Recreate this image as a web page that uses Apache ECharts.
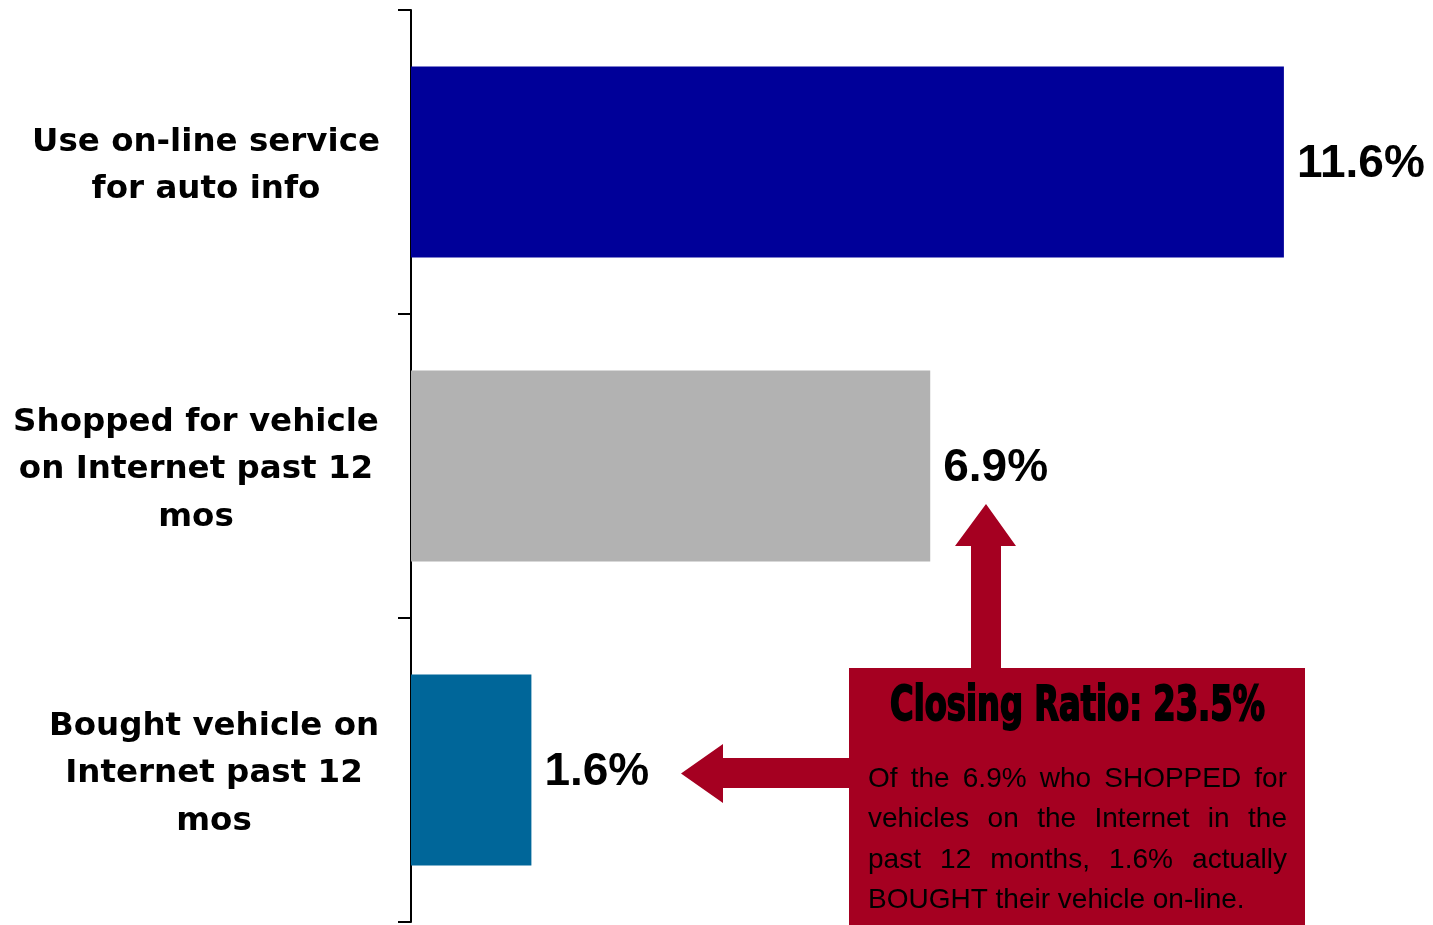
<!DOCTYPE html>
<html>
<head>
<meta charset="utf-8">
<script src="https://cdn.jsdelivr.net/npm/echarts@6/dist/echarts.min.js"></script>
<style>
  html, body { margin: 0; padding: 0; background: #ffffff; }
  #chart { width: 1433px; height: 925px; }
</style>
</head>
<body>
<div id="chart"></div>
<script>
// Online vehicle shopping funnel
const categories = [
  'Use on-line service\nfor auto info',
  'Shopped for vehicle\non Internet past 12\nmos',
  'Bought vehicle on\nInternet past 12\nmos'
];
const values = [11.6, 6.9, 1.6];
const barColors = ['#000099', '#B2B2B2', '#006699'];

const calloutTitle = 'Closing Ratio: 23.5%';
const calloutLines = [
  'Of the 6.9% who SHOPPED for',
  'vehicles on the Internet in the',
  'past 12 months, 1.6% actually',
  'BOUGHT their vehicle on-line.'
];

const RED = '#A50021';
const SANS = "'Liberation Sans', Arial, Helvetica, sans-serif";
const HEAVY = "'DejaVu Sans Condensed', 'DejaVu Sans', sans-serif";

// per-label right padding so each multi-line label sits at its own centre
const labelPad = [16, 36, 0];

const chart = echarts.init(document.getElementById('chart'), null, { renderer: 'canvas' });

const measureCtx = document.createElement('canvas').getContext('2d');
function textWidth(str, font) {
  measureCtx.font = font;
  return measureCtx.measureText(str).width;
}

// Callout box geometry
const box = { x: 849, y: 668, w: 456, h: 257 };
const graphics = [];

// arrow up towards the "shopped" value
graphics.push({
  type: 'polygon', silent: true, z: 10,
  shape: { points: [[971, 668], [971, 546], [955, 546], [986, 504], [1016, 546], [1001, 546], [1001, 668]] },
  style: { fill: RED }
});
// arrow left towards the "bought" value
graphics.push({
  type: 'polygon', silent: true, z: 10,
  shape: { points: [[849, 758], [723, 758], [723, 744], [681, 773.5], [723, 803], [723, 788], [849, 788]] },
  style: { fill: RED }
});
graphics.push({
  type: 'rect', silent: true, z: 10,
  shape: { x: box.x, y: box.y, width: box.w, height: box.h },
  style: { fill: RED }
});

// heavy condensed headline, stretched to span the box
const titleSize = 40;
const titleW = textWidth(calloutTitle, 'bold ' + titleSize + 'px ' + HEAVY);
const titleCx = 1077.5, titleCy = 707;
graphics.push({
  type: 'text', silent: true, z: 11,
  x: titleCx, y: titleCy,
  scaleX: 375 / titleW, scaleY: 1.22,
  style: {
    text: calloutTitle, x: 0, y: 0,
    fill: '#000000', stroke: '#000000', lineWidth: 1.6,
    fontSize: titleSize, fontFamily: HEAVY, fontWeight: 'bold',
    align: 'center', verticalAlign: 'middle'
  }
});

// justified body copy (last line left aligned)
const bodyFont = '28px ' + SANS;
const bodyLeft = 868, bodyRight = 1287;
const bodyY = [779, 819.5, 860, 900.5];
calloutLines.forEach((line, i) => {
  const words = line.split(' ');
  const widths = words.map(w => textWidth(w, bodyFont));
  const total = widths.reduce((a, b) => a + b, 0);
  const last = i === calloutLines.length - 1;
  const gap = last ? textWidth(' ', bodyFont) : (bodyRight - bodyLeft - total) / (words.length - 1);
  let x = bodyLeft;
  words.forEach((w, k) => {
    graphics.push({
      type: 'text', silent: true, z: 11,
      style: {
        text: w, x: x, y: bodyY[i], fill: '#000000',
        fontSize: 28, fontFamily: SANS,
        align: 'left', verticalAlign: 'middle'
      }
    });
    x += widths[k] + gap;
  });
});

const labelFont = "'DejaVu Sans', sans-serif";
// a thin empty first line nudges each label block down a few pixels
const nudge = { fontSize: 1, lineHeight: 8 };

const option = {
  backgroundColor: '#ffffff',
  animation: false,
  grid: { left: 411, right: 119, top: 10, bottom: 3, containLabel: false, outerBoundsMode: 'none' },
  xAxis: {
    type: 'value', min: 0, max: 12, show: false,
    splitLine: { show: false }
  },
  yAxis: {
    type: 'category',
    inverse: true,
    data: categories.map((c, i) => ({
      value: c,
      textStyle: {
        align: 'center', padding: [0, labelPad[i], 0, 0],
        color: '#000000', fontFamily: labelFont, fontWeight: 'bold', fontSize: 32.5, lineHeight: 47.5,
        rich: { g: nudge }
      }
    })),
    axisLine: { show: true, lineStyle: { color: '#000000', width: 2 } },
    axisTick: { show: true, length: 13, inside: false, lineStyle: { color: '#000000', width: 2 } },
    axisLabel: {
      margin: 197, align: 'center', color: '#000000',
      fontFamily: labelFont, fontWeight: 'bold', fontSize: 32.5,
      lineHeight: 47.5,
      formatter: v => '{g| }\n' + v,
      rich: { g: nudge }
    },
    splitLine: { show: false }
  },
  series: [{
    type: 'bar',
    barWidth: 191,
    data: values.map((v, i) => ({ value: v, itemStyle: { color: barColors[i] } })),
    label: {
      show: true, position: 'right', distance: 13,
      formatter: p => '{g| }\n{v|' + p.value.toFixed(1) + '%}',
      rich: {
        g: { fontSize: 1, lineHeight: 4 },
        v: { color: '#000000', fontFamily: SANS, fontWeight: 'bold', fontSize: 46, lineHeight: 53 }
      },
      color: '#000000', fontFamily: SANS, fontWeight: 'bold', fontSize: 46
    }
  }],
  graphic: graphics
};

chart.setOption(option);
</script>
</body>
</html>
